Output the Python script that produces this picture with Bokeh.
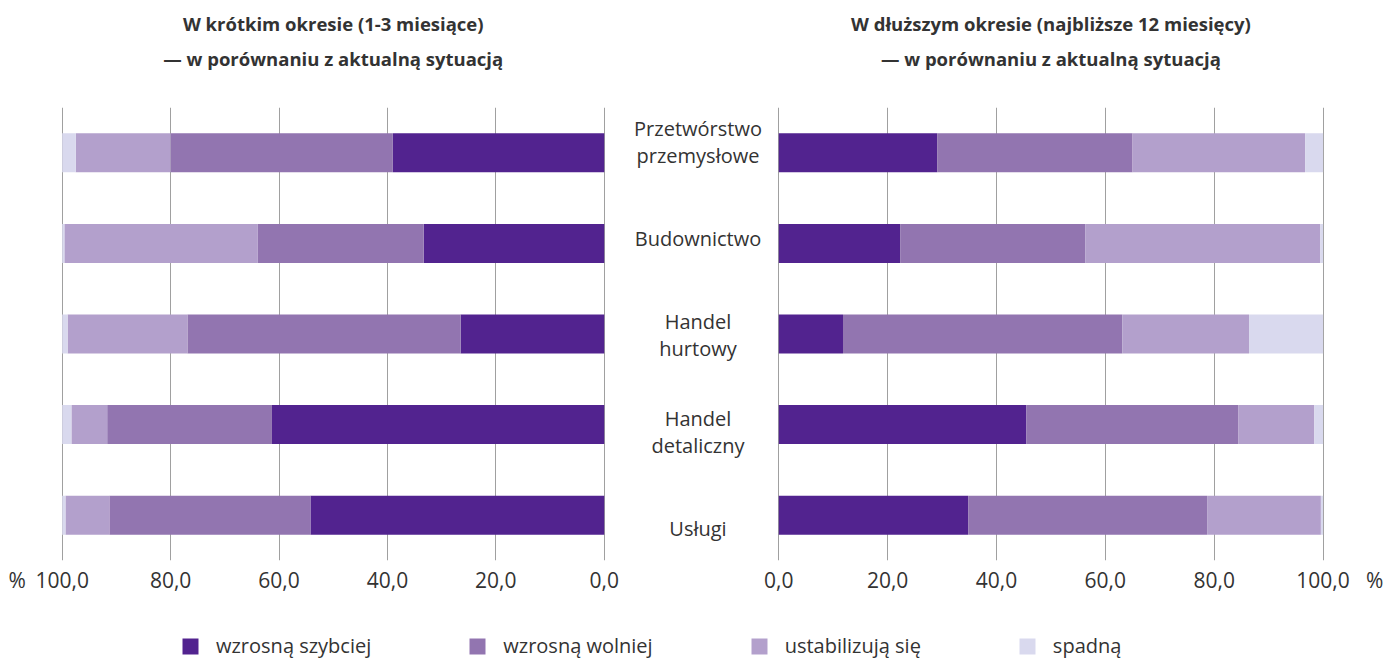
from bokeh.plotting import figure
from bokeh.models import (ColumnDataSource, FactorRange, Range1d, FixedTicker, Spacer,
                          Legend, LegendItem)
from bokeh.layouts import row, column
from bokeh.embed import file_html
from bokeh.resources import INLINE
from bokeh.core.properties import value

categories = ["Przetwórstwo\nprzemysłowe", "Budownictwo", "Handel\nhurtowy",
              "Handel\ndetaliczny", "Usługi"]
series_names = ["wzrosną szybciej", "wzrosną wolniej", "ustabilizują się", "spadną"]
colors = ["#52238f", "#9275b0", "#b3a0cc", "#d9d9ee"]

short_faster = [39.0, 33.3, 26.5, 61.3, 54.2]
short_slower = [41.0, 30.6, 50.4, 30.4, 37.1]
short_stable = [17.5, 35.7, 22.1, 6.6, 8.1]
short_fall = [2.5, 0.4, 1.0, 1.7, 0.6]

long_faster = [29.1, 22.3, 11.8, 45.5, 34.8]
long_slower = [35.9, 34.0, 51.3, 38.9, 43.9]
long_stable = [31.7, 43.2, 23.3, 14.0, 20.9]
long_fall = [3.3, 0.5, 13.6, 1.6, 0.4]

ticks = [0, 20, 40, 60, 80, 100]
tick_labels = ["0,0", "20,0", "40,0", "60,0", "80,0", "100,0"]
unit_label = "%"

title_left = ["W krótkim okresie (1-3 miesiące)", "— w porównaniu z aktualną sytuacją"]
title_right = ["W dłuższym okresie (najbliższe 12 miesięcy)", "— w porównaniu z aktualną sytuacją"]

FONT = "Open Sans"
TXT = "#333333"
GRID = "#a0a0a0"
keys = ["faster", "slower", "stable", "fall"]

TOP = 107          # height of the title strip
BOTTOM = 42
CH = 495


def base(width, height, x_range, y_range, bl, br, top, bottom, axis=False):
    p = figure(width=width, height=height, x_range=x_range, y_range=y_range,
               output_backend="svg", toolbar_location=None,
               x_axis_location="below" if axis else None, y_axis_location=None,
               min_border_left=bl, min_border_right=br, min_border_top=top,
               min_border_bottom=bottom)
    p.outline_line_color = None
    p.grid.grid_line_color = None
    return p


def panel(vals, x_range, width, bl, br, pct_pos):
    src = ColumnDataSource(dict(cat=categories, faster=vals[0], slower=vals[1],
                                stable=vals[2], fall=vals[3]))
    p = base(width, CH, x_range, FactorRange(factors=list(reversed(categories))),
             bl, br, 0, BOTTOM, axis=True)
    p.hbar_stack(keys, y="cat", height=0.43, color=colors, source=src, line_color=None)
    p.xgrid.ticker = FixedTicker(ticks=ticks)
    p.xgrid.grid_line_color = GRID
    p.xgrid.grid_line_width = 1
    ax = p.xaxis[0]
    ax.ticker = FixedTicker(ticks=ticks + [pct_pos])
    overrides = {t: l for t, l in zip(ticks, tick_labels)}
    overrides[pct_pos] = unit_label
    ax.major_label_overrides = overrides
    ax.axis_line_color = None
    ax.major_tick_line_color = None
    ax.minor_tick_line_color = None
    ax.major_tick_out = 0
    ax.major_tick_in = 0
    ax.minor_tick_out = 0
    ax.major_label_standoff = 5
    ax.major_label_text_font = FONT
    ax.major_label_text_font_size = "21px"
    ax.major_label_text_color = TXT
    return p


def title_fig(width, x_range, bl, br, lines):
    t = base(width, TOP, x_range, Range1d(TOP, 0), bl, br, 0, 0)
    t.text(x=[50, 50], y=[23, 58], text=lines, text_align="center", text_baseline="middle",
           text_font=value(FONT), text_font_size="18.5px", text_font_style="bold",
           text_color=TXT)
    return t


xr_left = Range1d(108.8, -0.6)
xr_right = Range1d(-0.6, 110.0)
LW, LBL, LBR = 633, 14, 26
RW, RBL, RBR = 625, 13, 10
CW = 129

left = panel([short_faster, short_slower, short_stable, short_fall], xr_left, LW, LBL, LBR, 108.3)
right = panel([long_faster, long_slower, long_stable, long_fall], xr_right, RW, RBL, RBR, 109.5)

tl = title_fig(LW, xr_left, LBL, LBR, title_left)
tr = title_fig(RW, xr_right, RBL, RBR, title_right)

# category labels, spread slightly wider than the bars as in the original
center = base(CW, CH, Range1d(0, 1), Range1d(4.33, -0.357), 0, 0, 0, BOTTOM)
csrc = ColumnDataSource(dict(x=[0.5] * len(categories), y=list(range(len(categories))),
                             t=categories))
center.text(x="x", y="y", text="t", source=csrc, text_align="center", text_baseline="middle",
            text_font=value(FONT), text_font_size="20px", text_color=TXT, text_line_height=1.0)

leg = figure(width=LW + CW + RW, height=58, x_range=Range1d(0, 1), y_range=Range1d(0, 1),
             output_backend="svg", toolbar_location=None, x_axis_location=None,
             y_axis_location=None, min_border=0)
leg.outline_line_color = None
leg.grid.grid_line_color = None
items = []
for name, c in zip(series_names, colors):
    src = ColumnDataSource(dict(y=[5], l=[0], r=[0]))
    r = leg.hbar(y="y", left="l", right="r", height=1, source=src, color=c, line_color=None)
    items.append(LegendItem(label=name, renderers=[r]))
legend = Legend(items=items, orientation="horizontal", location=(180, 1),
                spacing=96, glyph_width=20, glyph_height=20, label_standoff=16,
                label_text_font=FONT, label_text_font_size="20px", label_text_color=TXT,
                border_line_color=None, background_fill_alpha=0, padding=0, margin=0)
leg.add_layout(legend, "center")

layout = column(row(tl, Spacer(width=CW, height=TOP), tr, spacing=0),
                row(left, center, right, spacing=0), leg, spacing=0)
open("out.html", "w").write(file_html(layout, INLINE))
